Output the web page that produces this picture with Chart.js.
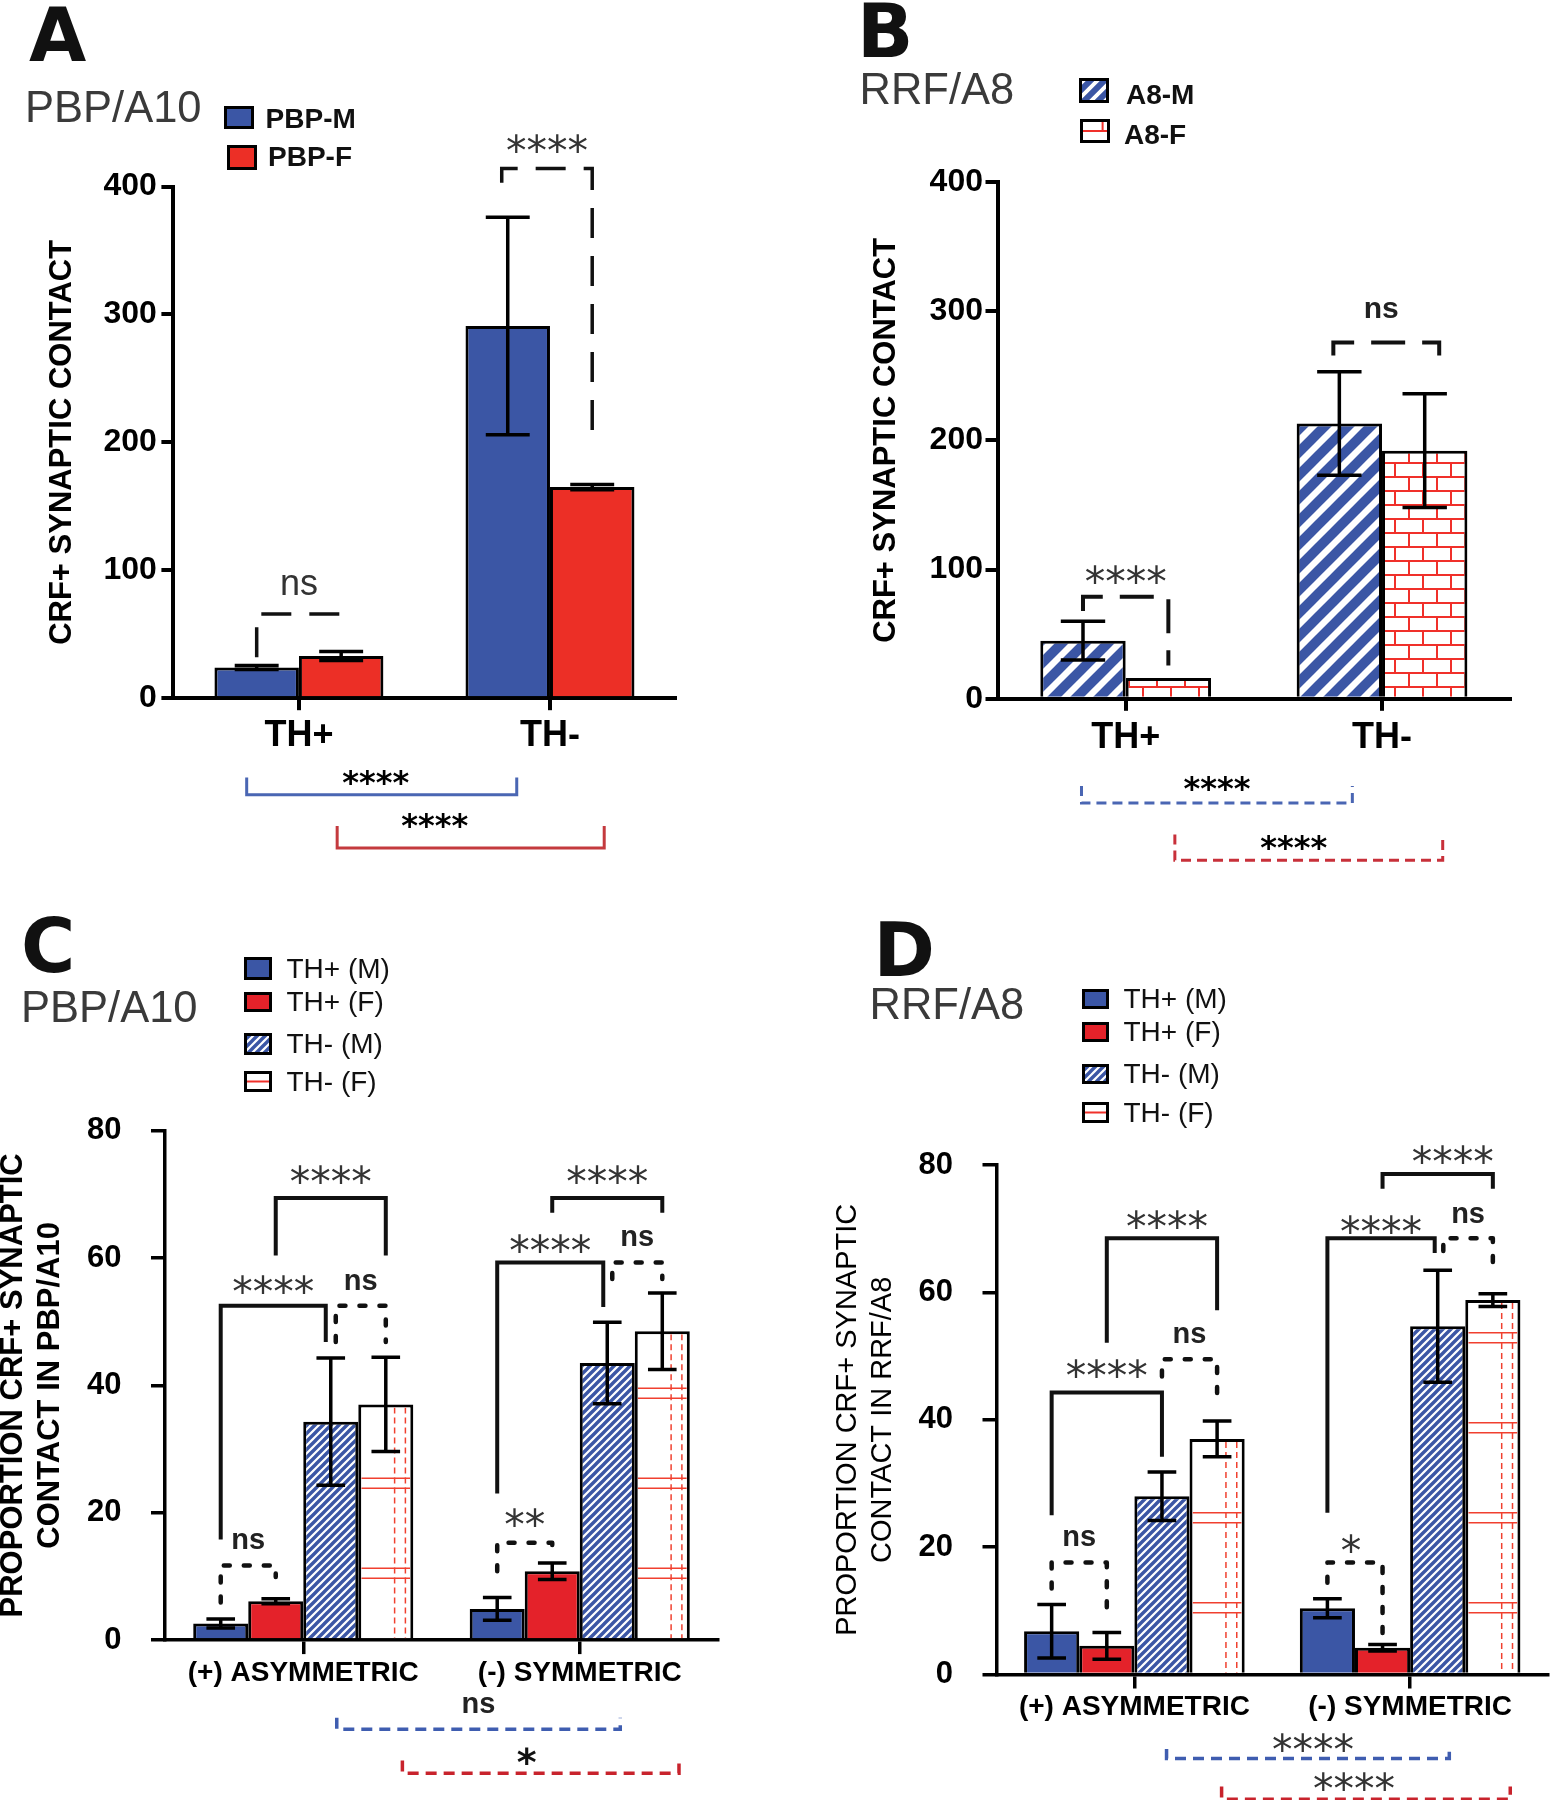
<!DOCTYPE html>
<html><head><meta charset="utf-8">
<script src="https://cdn.jsdelivr.net/npm/chart.js@4.4.1/dist/chart.umd.min.js"></script>
<style>
html,body{margin:0;padding:0;background:#fff;}
#page{position:relative;width:1554px;height:1800px;overflow:hidden;background:#fff;}
canvas.ch{position:absolute;left:-20px;top:0;}
.t{position:absolute;white-space:nowrap;}
</style></head><body><div id="page">
<canvas class="ch" id="cA" width="1574" height="1800"></canvas>
<canvas class="ch" id="cB" width="1574" height="1800"></canvas>
<canvas class="ch" id="cC" width="1574" height="1800"></canvas>
<canvas class="ch" id="cD" width="1574" height="1800"></canvas>
</div>
<script>
// ---------------- DATA ----------------
const catsAB = ['TH+', 'TH-'];
const catsCD = ['(+) ASYMMETRIC', '(-) SYMMETRIC'];
const yTicksAB = [0, 100, 200, 300, 400];
const yTicksCD = [0, 20, 40, 60, 80];

const aSeries = ['PBP-M', 'PBP-F'];
const aMale = [24, 291];
const aMaleErr = [1.5, 85];
const aFemale = [33, 165];
const aFemaleErr = [3.5, 2];

const bSeries = ['A8-M', 'A8-F'];
const bMale = [45, 213];
const bMaleErr = [15, 40];
const bFemale = [16, 192];
const bFemaleErr = [0, 44];

const cdSeries = ['TH+ (M)', 'TH+ (F)', 'TH- (M)', 'TH- (F)'];
const cThPosM = [2.6, 4.9];   const cThPosMErr = [0.7, 1.8];
const cThPosF = [6.1, 10.8];  const cThPosFErr = [0.4, 1.3];
const cThNegM = [34.3, 43.5]; const cThNegMErr = [10, 6.4];
const cThNegF = [37, 48.5];   const cThNegFErr = [7.4, 6];

const dThPosM = [6.8, 10.4];  const dThPosMErr = [4.2, 1.5];
const dThPosF = [4.5, 4.2];   const dThPosFErr = [2.1, 0.5];
const dThNegM = [28, 54.7];   const dThNegMErr = [3.8, 8.8];
const dThNegF = [37, 58.8];   const dThNegFErr = [2.8, 1];

// significance annotations: a/b = [datasetIndex, categoryIndex], levels in axis units
const aSig = [
  {a:[0,0], b:[1,0], y:65.9, ya:32, yb:59, t:'ns', ty:88.3, s:'dA', tf:'nsA'},
  {a:[0,1], b:[1,1], dxa:-6, y:414, ya:403, yb:198, t:'****', ty:433.8, s:'dA', tf:'star'},
  {a:[0,0], b:[0,1], dxa:-10, dxb:9, y:-75.4, ya:-62, yb:-62, t:'****', ty:-60.6, s:'sBlue', tf:'starB', tdx:-6},
  {a:[1,0], b:[1,1], dxa:-4, dxb:12, y:-117.1, ya:-99.9, yb:-99.9, t:'****', ty:-94.5, s:'sRed', tf:'starB', tdx:-36}
];
const bSig = [
  {a:[0,0], b:[1,0], y:79, ya:68, yb:25.8, t:'****', ty:96.8, s:'dB', tf:'star'},
  {a:[0,1], b:[1,1], dxa:-6, dxb:14.5, y:275.8, ya:265.6, yb:265.6, t:'ns', ty:301.1, s:'dB', tf:'nsB', tdx:-5},
  {a:[0,0], b:[0,1], dxa:-1.5, dxb:13, y:-80.7, ya:-67.5, yb:-67.5, t:'****', ty:-63.9, s:'dBlue', tf:'starB'},
  {a:[1,0], b:[1,1], dxa:6.5, dxb:18, y:-125, ya:-105, yb:-105, t:'****', ty:-109.7, s:'dRed', tf:'starB', tdx:-15}
];
const cSig = [
  {a:[0,0], b:[1,0], y:11.7, ya:5.9, yb:9.9, s:'dot', t:'ns', tf:'ns', ty:15.5},
  {a:[0,0], b:[2,0], dxb:-5, y:52.5, ya:15.8, yb:46.8, s:'sol', t:'****', tf:'star', ty:56.0},
  {a:[2,0], b:[3,0], dxa:5, y:52.5, ya:46.8, yb:46.8, s:'dot', t:'ns', tf:'ns', ty:56.1},
  {a:[1,0], b:[3,0], y:69.4, ya:60.4, yb:60.4, s:'sol', t:'****', tf:'star', ty:73.2},
  {a:[0,1], b:[1,1], y:15.3, ya:10.8, yb:14.4, s:'dot', t:'**', tf:'star', ty:19.4},
  {a:[0,1], b:[2,1], dxb:-4, y:59.3, ya:23.0, yb:52.3, s:'sol', t:'****', tf:'star', ty:62.3},
  {a:[2,1], b:[3,1], dxa:5, y:59.3, ya:56.7, yb:56.7, s:'dot', t:'ns', tf:'ns', ty:63.1},
  {a:[1,1], b:[3,1], y:69.4, ya:67.1, yb:67.1, s:'sol', t:'****', tf:'star', ty:73.2},
  {a:[2,0], b:[2,1], dxa:6, dxb:13, y:-14.0, ya:-12.2, yb:-12.2, s:'cBlue', t:'ns', tf:'ns', ty:-10.3},
  {a:[3,0], b:[3,1], dxa:16.6, dxb:16.7, y:-20.9, ya:-18.9, yb:-18.9, s:'cRed', t:'*', tf:'starC', ty:-18.0, tdx:-14}
];
const dSig = [
  {a:[0,0], b:[1,0], y:17.6, ya:13.5, yb:9.0, s:'dot', t:'ns', tf:'ns', ty:21.4},
  {a:[0,0], b:[2,0], y:44.3, ya:25.0, yb:34.2, s:'sol', t:'****', tf:'star', ty:48.2},
  {a:[2,0], b:[3,0], y:49.5, ya:46.8, yb:42.3, s:'dot', t:'ns', tf:'ns', ty:53.2},
  {a:[1,0], b:[3,0], y:68.5, ya:52.1, yb:57.2, s:'sol', t:'****', tf:'star', ty:71.6, tdx:5},
  {a:[0,1], b:[1,1], y:17.6, ya:14.4, yb:5.0, s:'dot', t:'*', tf:'star', ty:20.7, tdx:-4},
  {a:[0,1], b:[2,1], dxb:-3, y:68.5, ya:25.4, yb:66.2, s:'sol', t:'****', tf:'star', ty:70.7},
  {a:[2,1], b:[3,1], dxa:5.6, y:68.5, ya:66.5, yb:62.6, s:'dot', t:'ns', tf:'ns', ty:72.1},
  {a:[1,1], b:[3,1], y:78.6, ya:76.3, yb:76.3, s:'sol', t:'****', tf:'star', ty:81.7, tdx:15},
  {a:[2,0], b:[2,1], dxa:4.6, dxb:11.6, y:-13.2, ya:-11.7, yb:-11.7, s:'cBlue', t:'****', tf:'star', ty:-10.6, tdx:5},
  {a:[3,0], b:[3,1], dxa:4.5, dxb:17.4, y:-19.6, ya:-17.6, yb:-17.6, s:'cRed', t:'****', tf:'star', ty:-16.7, tdx:-12}
];

// ---------------- STYLES ----------------
const BLUE = '#3B56A5', RED = '#EC2F26', RED2 = '#E4222A';
const FAM = 'Liberation Sans';
const STY = {
  dA: {dash:[30,18], lw:3.5, color:'#111'},
  dB: {dash:[34,17], lw:4, color:'#111'},
  dot: {dash:[6,14], lw:4.5, color:'#111', cap:'round'},
  sol: {dash:[], lw:4, color:'#111'},
  sBlue: {dash:[], lw:3, color:'#4A66B3'}, sRed: {dash:[], lw:3, color:'#C43A3E'},
  dBlue: {dash:[10,6], lw:3, color:'#4A66B3'}, dRed: {dash:[10,6], lw:3, color:'#C8303A'},
  cBlue: {dash:[11,7], lw:3.5, color:'#3F5DB0'}, cRed: {dash:[11,7], lw:3.5, color:'#C8232C'}
};
const LF = {
  star: {font:'41px "DejaVu Sans"', color:'#333', size:41, off:0.54},
  starB: {font:'bold 32px "DejaVu Sans"', color:'#000', size:32, off:0.54},
  starC: {font:'bold 38px "DejaVu Sans"', color:'#111', size:38, off:0.54},
  nsA: {font:'36px "Liberation Sans"', color:'#333', size:36, off:0.26},
  nsB: {font:'bold 30px "Liberation Sans"', color:'#222', size:30, off:0.26},
  ns: {font:'bold 29px "Liberation Sans"', color:'#222', size:29, off:0.26}
};

// ---------------- PATTERNS ----------------
function stripeTile(s, lw, color) {
  const c = document.createElement('canvas'); c.width = c.height = s;
  const g = c.getContext('2d'); g.fillStyle = '#fff'; g.fillRect(0, 0, s, s);
  g.strokeStyle = color; g.lineWidth = lw;
  g.beginPath();
  g.moveTo(-s, s); g.lineTo(s, -s);
  g.moveTo(-1, s + 1); g.lineTo(s + 1, -1);
  g.moveTo(0, 2 * s); g.lineTo(2 * s, 0);
  g.stroke(); return c;
}
function brickTile() {
  const c = document.createElement('canvas'); c.width = 28; c.height = 28;
  const g = c.getContext('2d'); g.fillStyle = '#fff'; g.fillRect(0, 0, 28, 28);
  g.fillStyle = '#F0302A';
  g.fillRect(0, 0, 28, 2); g.fillRect(0, 14, 28, 2);
  g.fillRect(0, 0, 2, 14); g.fillRect(14, 14, 2, 14);
  return c;
}
function pat(id, tile) { return document.getElementById(id).getContext('2d').createPattern(tile, 'repeat'); }

function drawSparse(ctx, bar, bw) {
  const p = bar.getProps(['x', 'y', 'width', 'base'], true);
  const l = p.x - p.width / 2 + bw, r = p.x + p.width / 2 - bw, t = p.y + bw, b = p.base;
  ctx.save(); ctx.beginPath(); ctx.rect(l, t, r - l, b - t); ctx.clip();
  ctx.strokeStyle = '#F0402F'; ctx.lineWidth = 1.5;
  ctx.setLineDash([6, 4]);
  [0.68, 0.9].forEach(f => { const xx = l + (r - l) * f; ctx.beginPath(); ctx.moveTo(xx, t); ctx.lineTo(xx, b); ctx.stroke(); });
  ctx.setLineDash([]);
  for (let k = 0; k < 20; k++) {
    const y1 = b - 60 - 90 * k; if (y1 < t - 20) break;
    [y1, y1 - 10].forEach(yy => { ctx.beginPath(); ctx.moveTo(l, yy); ctx.lineTo(r, yy); ctx.stroke(); });
  }
  ctx.restore();
}

// ---------------- PLUGINS ----------------
const errPlugin = {
  id: 'errbars',
  afterDatasetsDraw(chart, args, opts) {
    const ctx = chart.ctx, ys = chart.scales.y;
    chart.data.datasets.forEach((ds, di) => {
      if (ds.sparse) chart.getDatasetMeta(di).data.forEach(bar => drawSparse(ctx, bar, 3));
    });
    chart.data.datasets.forEach((ds, di) => {
      const meta = chart.getDatasetMeta(di);
      meta.data.forEach((bar, i) => {
        const e = ds.err ? ds.err[i] : 0; if (!e) return;
        const v = ds.data[i];
        const x = bar.x, c = bar.width * opts.cap / 2;
        const yt = ys.getPixelForValue(v + e), yb = ys.getPixelForValue(v - e);
        ctx.save(); ctx.strokeStyle = '#000'; ctx.lineWidth = opts.lw;
        ctx.beginPath(); ctx.moveTo(x, yt); ctx.lineTo(x, yb);
        ctx.moveTo(x - c, yt); ctx.lineTo(x + c, yt);
        ctx.moveTo(x - c, yb); ctx.lineTo(x + c, yb);
        ctx.stroke(); ctx.restore();
      });
    });
  }
};
const sigPlugin = {
  id: 'sig',
  afterDraw(chart, args, opts) {
    const ctx = chart.ctx, ys = chart.scales.y;
    (opts.items || []).forEach(b => {
      const st = STY[b.s], lf = LF[b.tf];
      const xa = chart.getDatasetMeta(b.a[0]).data[b.a[1]].x + (b.dxa || 0);
      const xb = chart.getDatasetMeta(b.b[0]).data[b.b[1]].x + (b.dxb || 0);
      const yy = ys.getPixelForValue(b.y), ya = ys.getPixelForValue(b.ya), yb = ys.getPixelForValue(b.yb);
      ctx.save();
      ctx.strokeStyle = st.color; ctx.lineWidth = st.lw; ctx.setLineDash(st.dash);
      ctx.lineCap = st.cap || 'butt'; ctx.lineJoin = st.cap ? 'round' : 'miter';
      ctx.beginPath(); ctx.moveTo(xa, ya); ctx.lineTo(xa, yy); ctx.lineTo(xb, yy); ctx.lineTo(xb, yb); ctx.stroke();
      ctx.setLineDash([]);
      ctx.font = lf.font; ctx.fillStyle = lf.color; ctx.textAlign = 'center'; ctx.textBaseline = 'alphabetic';
      const ly = ys.getPixelForValue(b.ty);
      ctx.fillText(b.t, (xa + xb) / 2 + (b.tdx || 0), ly + lf.off * lf.size);
      ctx.restore();
    });
  }
};

// ---------------- CHART BUILDER ----------------
function buildChart(id, p) {
  const axisGrid = { offset: false, drawOnChartArea: false, drawTicks: true, tickLength: p.tl, color: '#000', lineWidth: p.alw };
  return new Chart(document.getElementById(id).getContext('2d'), {
    type: 'bar',
    data: { labels: p.cats, datasets: p.datasets },
    options: {
      responsive: false, animation: false, devicePixelRatio: 1, events: [],
      layout: { padding: { left: p.padL, right: p.padR, top: p.padT, bottom: p.padB } },
      datasets: { bar: { categoryPercentage: p.cat, barPercentage: 1, borderWidth: 3, borderColor: '#000', borderSkipped: 'start' } },
      plugins: { legend: { display: false }, tooltip: { enabled: false },
        errbars: { lw: 3.5, cap: 0.52 }, sig: { items: p.sig } },
      scales: {
        x: { type: 'category', offset: true, z: 1, grid: axisGrid,
          border: { display: true, color: '#000', width: p.alw },
          ticks: { color: '#000', font: p.xFont, padding: p.xPad, maxRotation: 0, minRotation: 0, autoSkip: false },
          afterFit: s => { s.height = 60; } },
        y: { type: 'linear', min: 0, max: p.max, z: 1,
          afterBuildTicks: s => { s.ticks = p.yTicks.map(v => ({ value: v })); },
          grid: Object.assign({}, axisGrid, { offset: false }),
          border: { display: true, color: '#000', width: p.alw },
          ticks: { color: '#000', font: p.yFont, padding: p.yPad },
          title: { display: true, text: p.yTitle, color: '#000', font: p.tFont, padding: { top: 0, bottom: 0 } },
          afterFit: s => { s.width = p.yW; } }
      }
    },
    plugins: [errPlugin, sigPlugin]
  });
}

const stripeBig = stripeTile(23, 9.8, BLUE);
const stripeFine = stripeTile(8, 3.4, BLUE);
const bricks = brickTile();

buildChart('cA', {
  cats: catsAB, max: 400, yTicks: yTicksAB, sig: aSig,
  datasets: [
    { label: aSeries[0], data: aMale, err: aMaleErr, backgroundColor: BLUE },
    { label: aSeries[1], data: aFemale, err: aFemaleErr, backgroundColor: RED }
  ],
  padL: 63.4, yW: 130, padT: 186.5, padR: 878.5, padB: 1041.8, cat: 0.673,
  tl: 12, alw: 4, yPad: 4.5, xPad: 4.5,
  yFont: { family: FAM, size: 32, weight: 'bold' }, xFont: { family: FAM, size: 36, weight: 'bold' },
  yTitle: 'CRF+ SYNAPTIC CONTACT', tFont: { family: FAM, size: 31, weight: 'bold', lineHeight: 1.2 }
});
buildChart('cB', {
  cats: catsAB, max: 400, yTicks: yTicksAB, sig: bSig,
  datasets: [
    { label: bSeries[0], data: bMale, err: bMaleErr, backgroundColor: pat('cB', stripeBig) },
    { label: bSeries[1], data: bFemale, err: bFemaleErr, backgroundColor: pat('cB', bricks) }
  ],
  padL: 888.2, yW: 129.3, padT: 181.9, padR: 43.8, padB: 1041.2, cat: 0.666,
  tl: 12, alw: 4, yPad: 2.5, xPad: 5.4,
  yFont: { family: FAM, size: 32, weight: 'bold' }, xFont: { family: FAM, size: 36, weight: 'bold' },
  yTitle: 'CRF+ SYNAPTIC CONTACT', tFont: { family: FAM, size: 31, weight: 'bold', lineHeight: 1.2 }
});
buildChart('cC', {
  cats: catsCD, max: 80, yTicks: yTicksCD, sig: cSig,
  datasets: [
    { label: cdSeries[0], data: cThPosM, err: cThPosMErr, backgroundColor: BLUE },
    { label: cdSeries[1], data: cThPosF, err: cThPosFErr, backgroundColor: RED2 },
    { label: cdSeries[2], data: cThNegM, err: cThNegMErr, backgroundColor: pat('cC', stripeFine) },
    { label: cdSeries[3], data: cThNegF, err: cThNegFErr, backgroundColor: '#fff', sparse: true }
  ],
  padL: 14.1, yW: 170.9, padT: 1130.6, padR: 836, padB: 99.9, cat: 0.796,
  tl: 14, alw: 3.5, yPad: 29.6, xPad: 2.2,
  yFont: { family: FAM, size: 31, weight: 'bold' }, xFont: { family: FAM, size: 28, weight: 'bold' },
  yTitle: ['PROPORTION CRF+ SYNAPTIC', 'CONTACT IN PBP/A10'], tFont: { family: FAM, size: 31, weight: 'bold', lineHeight: 1.22 }
});
buildChart('cD', {
  cats: catsCD, max: 80, yTicks: yTicksCD, sig: dSig,
  datasets: [
    { label: cdSeries[0], data: dThPosM, err: dThPosMErr, backgroundColor: BLUE },
    { label: cdSeries[1], data: dThPosF, err: dThPosFErr, backgroundColor: RED2 },
    { label: cdSeries[2], data: dThNegM, err: dThNegMErr, backgroundColor: pat('cD', stripeFine) },
    { label: cdSeries[3], data: dThNegF, err: dThNegFErr, backgroundColor: '#fff', sparse: true }
  ],
  padL: 849.9, yW: 166.6, padT: 1165.1, padR: 6, padB: 65.5, cat: 0.80,
  tl: 14, alw: 3.5, yPad: 29.5, xPad: 1.8,
  yFont: { family: FAM, size: 31, weight: 'bold' }, xFont: { family: FAM, size: 28, weight: 'bold' },
  yTitle: ['PROPORTION CRF+ SYNAPTIC', 'CONTACT IN RRF/A8'], tFont: { family: FAM, size: 29, weight: 'normal', lineHeight: 1.22 }
});

// ---------------- HTML TEXT (titles, legends) ----------------
const page = document.getElementById('page');
function txt(s, x, baseline, size, weight, color, fam) {
  const d = document.createElement('div'); d.className = 't'; d.textContent = s;
  d.style.cssText += `left:${x}px;top:${baseline - 0.8465 * size}px;font:${weight} ${size}px/${size}px "${fam || FAM}";color:${color};`;
  page.appendChild(d);
}
function swatch(x, y, w, h, painter) {
  const c = document.createElement('canvas'); c.width = Math.round(w); c.height = Math.round(h);
  c.style.cssText = `position:absolute;left:${x}px;top:${y}px;`;
  const g = c.getContext('2d'); painter(g, c.width, c.height);
  g.strokeStyle = '#000'; g.lineWidth = 3; g.strokeRect(1.5, 1.5, c.width - 3, c.height - 3);
  page.appendChild(c);
}
const fillSolid = col => (g, w, h) => { g.fillStyle = col; g.fillRect(0, 0, w, h); };
const fillPat = tile => (g, w, h) => { g.fillStyle = g.createPattern(tile, 'repeat'); g.fillRect(0, 0, w, h); };
const fillSparse = (g, w, h) => { g.fillStyle = '#fff'; g.fillRect(0, 0, w, h); g.fillStyle = '#F0302A'; g.fillRect(0, h / 2 - 1, w, 2); };
const fillBrickSw = (g, w, h) => { g.fillStyle = '#fff'; g.fillRect(0, 0, w, h); g.fillStyle = '#F0302A'; g.fillRect(0, h / 2 - 1, w, 2); g.fillRect(w * 0.72, 0, 2, h / 2); };

// panel letters & region titles
txt('A', 29, 61, 74, 'bold', '#111', 'DejaVu Sans');
txt('B', 857, 57, 74, 'bold', '#111', 'DejaVu Sans');
txt('C', 21, 972, 74, 'bold', '#111', 'DejaVu Sans');
txt('D', 873.5, 976, 74, 'bold', '#111', 'DejaVu Sans');
txt('PBP/A10', 25, 122.8, 43.5, 'normal', '#3a3a3a');
txt('RRF/A8', 859.5, 104.8, 43.5, 'normal', '#3a3a3a');
txt('PBP/A10', 21, 1022.8, 43.5, 'normal', '#3a3a3a');
txt('RRF/A8', 869.5, 1020, 43.5, 'normal', '#3a3a3a');

// legend A
swatch(224, 106, 30, 23, fillSolid(BLUE)); txt(aSeries[0], 265.6, 129, 28, 'bold', '#111');
swatch(227, 145, 30, 25, fillSolid(RED));  txt(aSeries[1], 268, 167, 28, 'bold', '#111');
// legend B
swatch(1079, 77.5, 30, 24.5, fillPat(stripeTile(14, 6, BLUE))); txt(bSeries[0], 1126, 104.7, 28, 'bold', '#111');
swatch(1080, 119, 30, 24.4, fillBrickSw); txt(bSeries[1], 1124, 144.8, 28, 'bold', '#111');
// legend C
const cdSw = [fillSolid(BLUE), fillSolid(RED2), fillPat(stripeTile(8, 3.4, BLUE)), fillSparse];
[[957, 23, 978.8], [991.8, 20, 1011.9], [1033, 22, 1054], [1071, 21, 1091.6]].forEach((r, i) => {
  swatch(244, r[0], 28, r[1], cdSw[i]); txt(cdSeries[i], 286.5, r[2], 28, 'normal', '#111');
});
// legend D
[[989, 20, 1009], [1022, 20, 1042], [1063.5, 20, 1083.6], [1102, 21, 1122.3]].forEach((r, i) => {
  swatch(1082, r[0], 27, r[1], cdSw[i]); txt(cdSeries[i], 1123.5, r[2], 28, 'normal', '#111');
});
</script></body></html>
